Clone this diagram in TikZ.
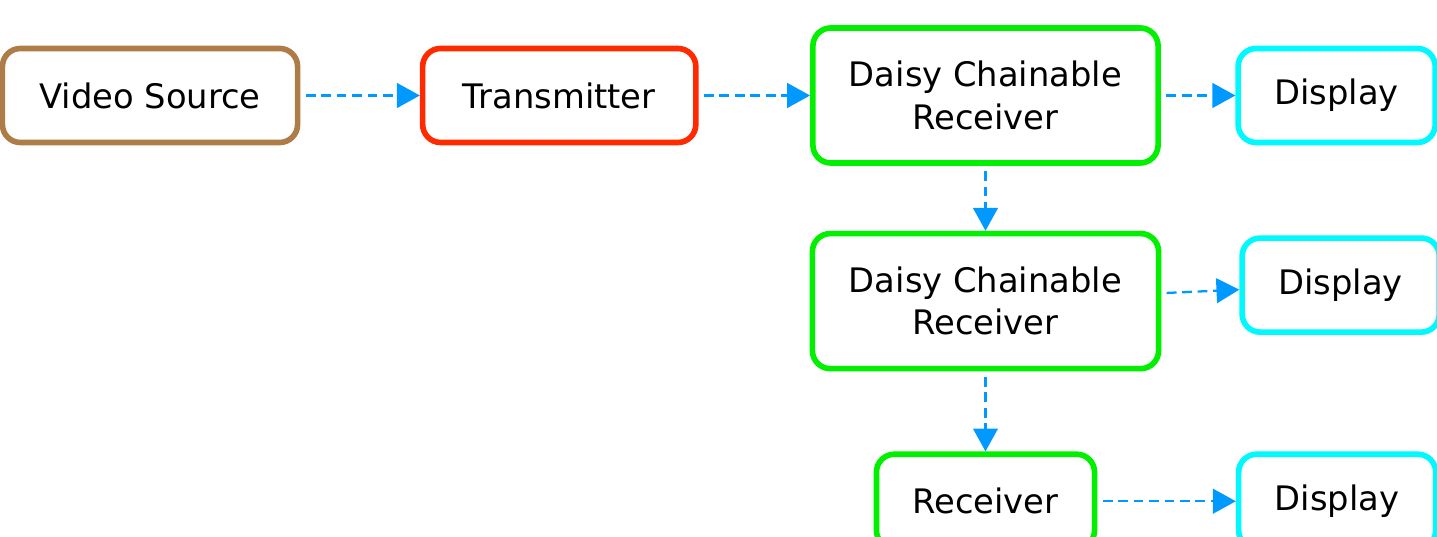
\documentclass[tikz,border=0pt]{standalone}
\usepackage{fontspec}
\setmainfont{DejaVu Sans}
\usetikzlibrary{arrows.meta,positioning}
\definecolor{srcbrown}{HTML}{AE7C46}
\definecolor{txred}{HTML}{FF2A00}
\definecolor{rxgreen}{HTML}{00F000}
\definecolor{dispcyan}{HTML}{00F8FF}
\definecolor{linkblue}{HTML}{0099FF}

\begin{document}
\begin{tikzpicture}[->,>={Triangle[length=6.5pt,width=7pt]},x=0.01cm,y=0.01cm]
\tikzstyle{every node}=[font=\fontsize{9.6}{12}\selectfont]
\tikzstyle{blk}=[draw,line width=1.6pt,rounded corners=0.18cm,fill=white,text=black,align=center,inner sep=0pt,minimum height=0.94cm]
\tikzstyle{link}=[draw,color=linkblue,line width=0.65pt,dash pattern=on 2.8pt off 1.6pt,shorten <=1.5pt]

\useasboundingbox (0,0) rectangle (1437,537);

\node[blk,draw=srcbrown,minimum width=2.95cm]	(vs) at (150,441.5) {Video Source};
\node[blk,draw=txred,minimum width=2.73cm]	(tx) [right of=vs,node distance=4.09cm] {Transmitter};
\node[blk,draw=rxgreen,minimum width=3.45cm,minimum height=1.35cm]	(dc1) [right of=tx,node distance=4.26cm] {Daisy Chainable\\Receiver};
\node[blk,draw=dispcyan,minimum width=1.97cm]	(d1) [right of=dc1,node distance=3.51cm] {Display};
\node[blk,draw=rxgreen,minimum width=3.46cm,minimum height=1.35cm]	(dc2) [below of=dc1,node distance=2.055cm] {Daisy Chainable\\Receiver};
\node[blk,draw=dispcyan,minimum width=1.97cm,yshift=0.16cm]	(d2) [right of=dc2,node distance=3.55cm] {Display};
\node[blk,draw=rxgreen,minimum width=2.18cm]	(rx) [below of=dc2,node distance=2.0cm] {Receiver};
\node[blk,draw=dispcyan,minimum width=1.97cm]	(d3) [right of=rx,node distance=3.515cm] {Display};

\path[link]
(vs) edge (tx)
(tx) edge (dc1)
(dc1) edge (d1)
(dc1) edge (dc2)
(dc2) edge (d2)
(dc2) edge (rx)
(rx) edge (d3)
;
\end{tikzpicture}
\end{document}
